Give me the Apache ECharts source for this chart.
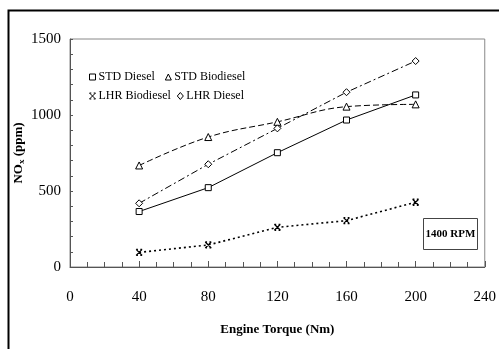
<!DOCTYPE html>
<html>
<head>
<meta charset="utf-8">
<script src="https://cdn.jsdelivr.net/npm/echarts@6/dist/echarts.min.js"></script>
<style>
html,body{margin:0;padding:0;background:#fff;}
#chart{width:499px;height:349px;}
</style>
</head>
<body>
<div id="chart"></div>
<script>
var torque = [40, 80, 120, 160, 200];
var stdDiesel = [365, 522, 752, 967, 1132];
var stdBiodiesel = [668, 855, 955, 1055, 1070];
var lhrBiodiesel = [96, 145, 261, 305, 426];
var lhrDiesel = [419, 676, 912, 1150, 1355];
var xTicks = [0, 40, 80, 120, 160, 200, 240];
var yTicks = [0, 500, 1000, 1500];

function pairs(vals){ return torque.map(function(t,i){ return [t, vals[i]]; }); }

var font = '"Liberation Serif", "Times New Roman", serif';
var xPath = 'path://M0,0L10,10M10,0L0,10M0,0L3,0M7,0L10,0M0,10L3,10M7,10L10,10';

var chart = echarts.init(document.getElementById('chart'), null, {renderer:'canvas'});
var markerStyle = {color:'#fff', borderColor:'#000', borderWidth:1};

chart.setOption({
  animation:false,
  backgroundColor:'#fff',
  grid:{left:70, right:14, top:39, bottom:82, show:true, borderColor:'#888', borderWidth:1, backgroundColor:'transparent'},
  xAxis:{
    type:'value', min:xTicks[0], max:xTicks[xTicks.length-1], interval:40,
    name:'Engine Torque (Nm)', nameLocation:'middle', nameGap:56, nameMoveOverlap:false,
    nameTextStyle:{fontFamily:font, fontWeight:'bold', fontSize:13, color:'#000'},
    axisLine:{show:true, onZero:false, lineStyle:{color:'#555', width:1}},
    axisTick:{show:true, inside:true, length:6, lineStyle:{color:'#555'}},
    minorTick:{show:true, splitNumber:4, length:5, lineStyle:{color:'#555'}},
    axisLabel:{fontFamily:font, fontSize:15, color:'#000', margin:23, formatter:function(v){return String(v);}},
    splitLine:{show:false}
  },
  yAxis:{
    type:'value', min:yTicks[0], max:yTicks[yTicks.length-1], interval:500,
    name:'{a|NO}{b|x}{a| (ppm)}', nameLocation:'middle', nameGap:44, nameRotate:90, nameMoveOverlap:false,
    nameTextStyle:{rich:{
      a:{fontFamily:font, fontWeight:'bold', fontSize:13, color:'#000'},
      b:{fontFamily:font, fontWeight:'bold', fontSize:9, color:'#000', verticalAlign:'bottom', padding:[6,0,0,0]}
    }},
    axisLine:{show:true, lineStyle:{color:'#555', width:1}},
    axisTick:{show:true, inside:true, length:3, lineStyle:{color:'#555'}},
    minorTick:{show:true, splitNumber:5, length:3, lineStyle:{color:'#555'}},
    axisLabel:{fontFamily:font, fontSize:15, color:'#000', margin:9, formatter:function(v){return String(v);}},
    splitLine:{show:false}
  },
  legend:[
    {
      data:[{name:'STD Diesel', icon:'rect'},{name:'STD Biodiesel', icon:'triangle'}],
      left:84, top:66, itemWidth:6, itemHeight:6, itemGap:10,
      itemStyle:{color:'#fff', borderColor:'#000', borderWidth:1},
      textStyle:{fontFamily:font, fontSize:12, color:'#000', padding:[0,0,0,-2]}
    },
    {
      data:[{name:'LHR Biodiesel', icon:xPath},{name:'LHR Diesel', icon:'diamond'}],
      left:84, top:85, itemWidth:6, itemHeight:7, itemGap:6,
      itemStyle:{color:'#fff', borderColor:'#000', borderWidth:1},
      textStyle:{fontFamily:font, fontSize:12, color:'#000', padding:[0,0,0,-2]}
    }
  ],
  series:[
    {name:'STD Diesel', type:'line', data:pairs(stdDiesel), symbol:'rect', symbolSize:6,
     itemStyle:markerStyle, lineStyle:{color:'#000', width:1, type:'solid'}},
    {name:'STD Biodiesel', type:'line', data:pairs(stdBiodiesel), symbol:'triangle', symbolSize:7, smooth:0.4,
     itemStyle:markerStyle, lineStyle:{color:'#000', width:1, type:[6,3]}},
    {name:'LHR Biodiesel', type:'line', data:pairs(lhrBiodiesel), symbol:xPath, symbolSize:6,
     itemStyle:{color:'none', borderColor:'#000', borderWidth:1.3}, lineStyle:{color:'#000', width:1.6, type:[2,3]}},
    {name:'LHR Diesel', type:'line', data:pairs(lhrDiesel), symbol:'diamond', symbolSize:7,
     itemStyle:markerStyle, lineStyle:{color:'#000', width:1, type:[7,3,2,3]}}
  ],
  graphic:[
    {type:'rect', shape:{x:8.5, y:10.5, width:500, height:350}, style:{fill:'none', stroke:'#000', lineWidth:2}, silent:true},
    {type:'group', left:423, top:218, children:[
      {type:'rect', shape:{x:0.5, y:0.5, width:54, height:31}, style:{fill:'#fff', stroke:'#444', lineWidth:1}},
      {type:'text', x:27.5, y:16, style:{text:'1400 RPM', font:'bold 11px "Liberation Serif", serif', fill:'#000', textAlign:'center', textVerticalAlign:'middle'}}
    ]}
  ]
});
</script>
</body>
</html>
